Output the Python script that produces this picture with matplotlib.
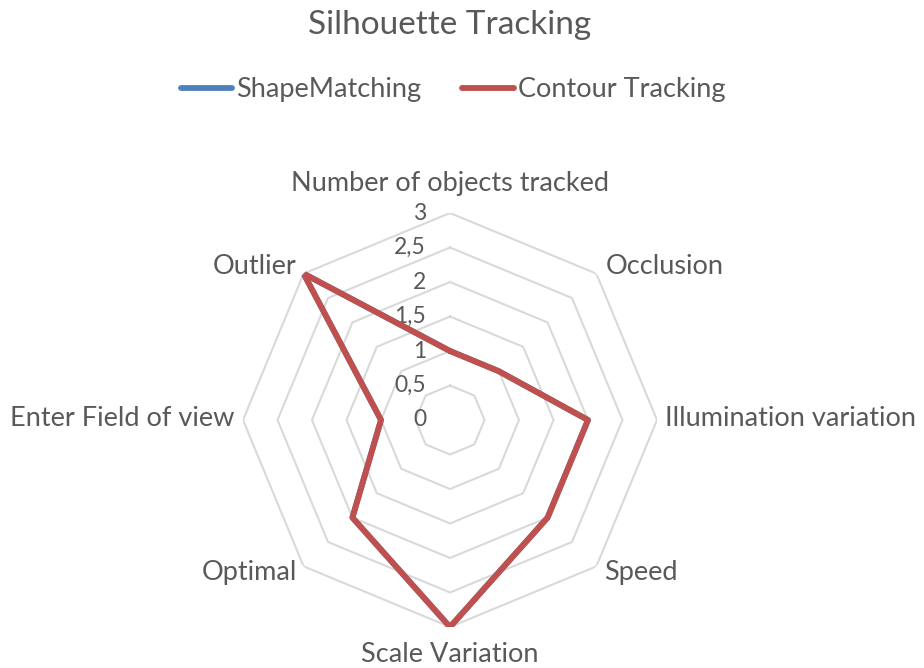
import matplotlib.pyplot as plt
import numpy as np

plt.rcParams['font.family'] = ['Lato', 'DejaVu Sans']

categories = ["Number of objects tracked", "Occlusion", "Illumination variation", "Speed",
              "Scale Variation", "Optimal", "Enter Field of view", "Outlier"]
shape_matching = [1, 1, 2, 2, 3, 2, 1, 3]
contour_tracking = [1, 1, 2, 2, 3, 2, 1, 3]
ring_values = [0.5, 1, 1.5, 2, 2.5, 3]
tick_labels = ["0", "0,5", "1", "1,5", "2", "2,5", "3"]

text_col = "#595959"
grid_col = "#d9d9d9"

fig = plt.figure(figsize=(9.24, 6.68), dpi=100)
ax = fig.add_axes([243 / 924, 41 / 668, 414 / 924, 414 / 668], projection="polar")
ax.set_theta_zero_location("N")
ax.set_theta_direction(-1)
ax.set_ylim(0, 3)
ax.grid(False)
ax.set_xticks([])
ax.set_yticks([])
ax.spines["polar"].set_visible(False)
ax.patch.set_visible(False)

n = len(categories)
angles = np.linspace(0, 2 * np.pi, n, endpoint=False)
closed = np.append(angles, angles[0])

# octagon grid rings
for r in ring_values:
    ax.plot(closed, [r] * (n + 1), color=grid_col, lw=1.5, zorder=1)

# value labels on the vertical axis
for i, lab in enumerate(tick_labels):
    ax.annotate(lab, xy=(0, i * 0.5), xytext=(-24, 0), textcoords="offset pixels",
                ha="right", va="center", fontsize=16.5, color=text_col)

# series
l1, = ax.plot(closed, shape_matching + shape_matching[:1], color="#4f81bd", lw=4.2,
              solid_joinstyle="round", solid_capstyle="round", label="ShapeMatching", zorder=3)
l2, = ax.plot(closed, contour_tracking + contour_tracking[:1], color="#c0504d", lw=4.2,
              solid_joinstyle="round", solid_capstyle="round", label="Contour Tracking", zorder=4)

# category labels
offsets = [(0, 30, "center"), (9, 7, "left"), (8, 2, "left"), (8, -6, "left"),
           (0, -28, "center"), (-7, -6, "right"), (-9, 2, "right"), (-7, 7, "right")]
for ang, lab, (dx, dy, ha) in zip(angles, categories, offsets):
    ax.annotate(lab, xy=(ang, 3), xytext=(dx, dy), textcoords="offset pixels",
                ha=ha, va="center", fontsize=19.5, color=text_col)

fig.suptitle("Silhouette Tracking", x=450 / 924, y=1 - 25 / 668, va="center",
             fontsize=24, color=text_col)
fig.legend(handles=[l1, l2], loc="center", bbox_to_anchor=(453 / 924, 1 - 90 / 668), ncol=2,
           frameon=False, fontsize=19.5, labelcolor=text_col, handlelength=1.9,
           handletextpad=0.15, columnspacing=1.5)

fig.savefig("out.png", dpi=100)
